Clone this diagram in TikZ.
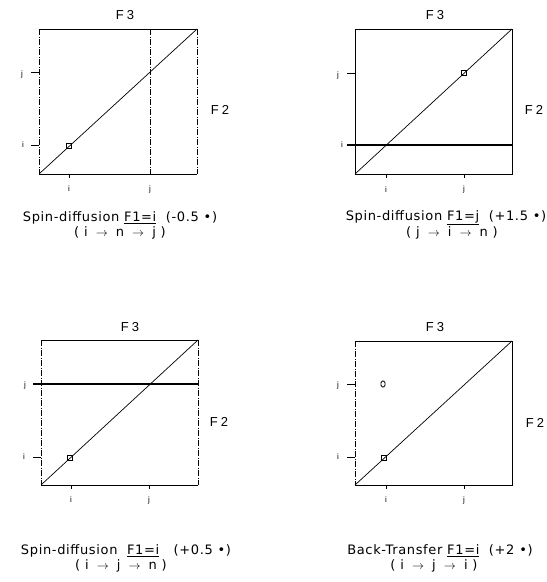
\documentclass[tikz,border=0pt]{standalone}
\usepackage{fontspec}
\setmainfont{Liberation Sans}
\newfontfamily\capfont[LetterSpace=5]{DejaVu Sans}
\begin{document}
\begin{tikzpicture}[x=1pt,y=-1pt,
  frame/.style={line width=1pt},
  dashedge/.style={line width=0.5pt, dash pattern=on 6pt off 1.5pt on 1pt off 1.5pt},
  diag/.style={line width=0.7pt},
  rowline/.style={line width=1.1pt},
  tickmark/.style={line width=0.7pt},
  peak/.style={draw, rectangle, minimum size=5.5pt, inner sep=0pt, line width=0.8pt},
  xpeak/.style={draw, rounded corners=1.5pt, minimum width=4pt, minimum height=6pt, inner sep=0pt, line width=0.8pt},
  ticklbl/.style={font=\fontsize{8}{9}\selectfont, inner sep=0pt},
  axlbl/.style={font=\fontsize{13}{15}\selectfont, inner sep=0pt},
  caption/.style={font=\capfont\fontsize{13}{15}\selectfont, inner sep=0pt}
]
\useasboundingbox (0,0) rectangle (547,582);
\fill[white] (0,0) rectangle (547,582);

% ---------------- Panel 1 ----------------
\coordinate (a-tl) at (39,29);  \coordinate (a-tr) at (197,29);
\coordinate (a-bl) at (39,174); \coordinate (a-br) at (197,174);
\draw[frame] (a-tl) -- (a-tr);
\draw[frame] (a-bl) -- (a-br);
\draw[dashedge] (a-tl) -- (a-bl);
\draw[dashedge] (a-tr) -- (a-br);
\draw[diag] (a-bl) -- (a-tr);
\coordinate (a-jt) at (150,29); \coordinate (a-jb) at (150,176);
\draw[dashedge] (a-jt) -- (a-jb);
\coordinate (a-li) at (39,145); \coordinate (a-lj) at (39,72);
\draw[tickmark] (a-li) -- ++(-8,0);
\draw[tickmark] (a-lj) -- ++(-8,0);
\node[ticklbl] (a-li-t) at (23,145) {i};
\node[ticklbl] (a-lj-t) at (22,74) {j};
\coordinate (a-bi) at (69,174);
\draw[tickmark] (a-bi) -- ++(0,4);
\node[ticklbl] (a-bi-t) at (69,189) {i};
\node[ticklbl] (a-bj-t) at (150,189) {j};
\node[peak] (a-pk) at (69,146) {};
\node[axlbl] (a-f3) at (125,15) {F\kern3pt 3};
\node[axlbl] (a-f2) at (220,110) {F\kern3pt 2};
\node[caption] (a-c1) at (120,218) {Spin-diffusion \underline{F1=i}\ \ (-0.5 \textbullet)};
\node[caption] (a-c2) at (120,233) {(\ i $\;\rightarrow\;$ n $\;\rightarrow\;$ j\ )};

% ---------------- Panel 2 ----------------
\coordinate (b-tl) at (355,29);  \coordinate (b-tr) at (512,29);
\coordinate (b-bl) at (355,174); \coordinate (b-br) at (512,174);
\draw[frame] (b-tl) -- (b-tr) -- (b-br) -- (b-bl) -- cycle;
\draw[diag] (b-bl) -- (b-tr);
\coordinate (b-ri0) at (347,145); \coordinate (b-ri1) at (512,145);
\draw[rowline] (b-ri0) -- (b-ri1);
\coordinate (b-lj) at (355,73);
\draw[tickmark] (b-lj) -- ++(-8,0);
\node[ticklbl] (b-lj-t) at (338,75) {j};
\node[ticklbl] (b-li-t) at (342,145) {i};
\coordinate (b-bi) at (386,174); \coordinate (b-bj) at (464,174);
\draw[tickmark] (b-bi) -- ++(0,4);
\draw[tickmark] (b-bj) -- ++(0,4);
\node[ticklbl] (b-bi-t) at (386,190) {i};
\node[ticklbl] (b-bj-t) at (464,189) {j};
\node[peak] (b-pk) at (464,73) {};
\node[axlbl] (b-f3) at (435,15) {F\kern3pt 3};
\node[axlbl] (b-f2) at (534,110) {F\kern3pt 2};
\node[caption] (b-c1) at (446,218) {Spin-diffusion \underline{F1=j}\ \ (+1.5 \textbullet)};
\node[caption] (b-c2) at (452,233) {(\ j $\;\rightarrow\;$ i $\;\rightarrow\;$ n\ )};

% ---------------- Panel 3 ----------------
\coordinate (c-tl) at (41,340);  \coordinate (c-tr) at (198,340);
\coordinate (c-bl) at (41,485);  \coordinate (c-br) at (198,485);
\draw[frame] (c-tl) -- (c-tr);
\draw[frame] (c-bl) -- (c-br);
\draw[dashedge] (c-tl) -- (c-bl);
\draw[dashedge] (c-tr) -- (c-br);
\draw[diag] (c-bl) -- (c-tr);
\coordinate (c-rj0) at (33,384); \coordinate (c-rj1) at (198,384);
\draw[rowline] (c-rj0) -- (c-rj1);
\coordinate (c-li) at (41,457);
\draw[tickmark] (c-li) -- ++(-8,0);
\node[ticklbl] (c-lj-t) at (25,385) {j};
\node[ticklbl] (c-li-t) at (24,457) {i};
\coordinate (c-bi) at (71,485); \coordinate (c-bj) at (149,485);
\draw[tickmark] (c-bi) -- ++(0,4);
\draw[tickmark] (c-bj) -- ++(0,4);
\node[ticklbl] (c-bi-t) at (71,500) {i};
\node[ticklbl] (c-bj-t) at (149,500) {j};
\node[peak] (c-pk) at (70,458) {};
\node[axlbl] (c-f3) at (130,327) {F\kern3pt 3};
\node[axlbl] (c-f2) at (219,422) {F\kern3pt 2};
\node[caption] (c-c1) at (126,551) {Spin-diffusion\ \ \underline{F1=i}\ \ \ (+0.5 \textbullet)};
\node[caption] (c-c2) at (121,566) {(\ i $\;\rightarrow\;$ j $\;\rightarrow\;$ n\ )};

% ---------------- Panel 4 ----------------
\coordinate (d-tl) at (355,341);  \coordinate (d-tr) at (512,341);
\coordinate (d-bl) at (355,485);  \coordinate (d-br) at (512,485);
\draw[frame] (d-tl) -- (d-tr) -- (d-br) -- (d-bl);
\draw[dashedge] (d-tl) -- (d-bl);
\draw[diag] (d-bl) -- (d-tr);
\coordinate (d-lj) at (355,384); \coordinate (d-li) at (355,457);
\draw[tickmark] (d-lj) -- ++(-8,0);
\draw[tickmark] (d-li) -- ++(-8,0);
\node[ticklbl] (d-lj-t) at (338,385) {j};
\node[ticklbl] (d-li-t) at (338,457) {i};
\coordinate (d-bi) at (386,485); \coordinate (d-bj) at (464,485);
\draw[tickmark] (d-bi) -- ++(0,4);
\draw[tickmark] (d-bj) -- ++(0,4);
\node[ticklbl] (d-bi-t) at (386,500) {i};
\node[ticklbl] (d-bj-t) at (464,500) {j};
\node[peak] (d-pk) at (384,458) {};
\node[xpeak] (d-xpk) at (383,384) {};
\node[axlbl] (d-f3) at (435,327) {F\kern3pt 3};
\node[axlbl] (d-f2) at (535,423) {F\kern3pt 2};
\node[caption] (d-c1) at (440,551) {Back-Transfer \underline{F1=i}\ \ (+2 \textbullet)};
\node[caption] (d-c2) at (434,566) {(\ i $\;\rightarrow\;$ j $\;\rightarrow\;$ i\ )};
\end{tikzpicture}
\end{document}
